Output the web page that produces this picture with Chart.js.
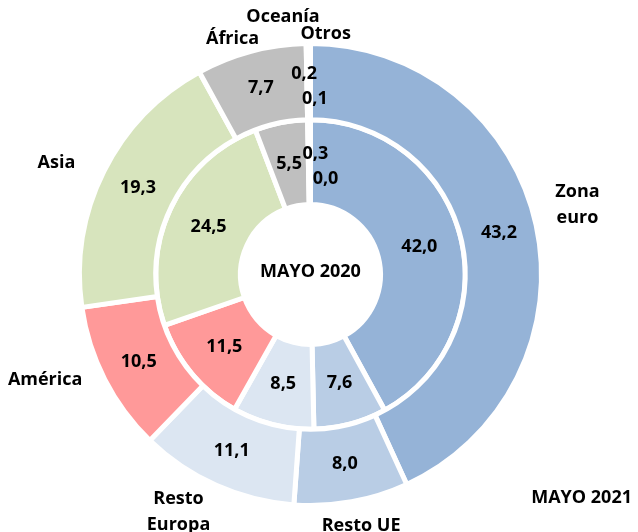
<!DOCTYPE html>
<html>
<head>
<meta charset="utf-8">
<script src="https://cdn.jsdelivr.net/npm/chart.js@4/dist/chart.umd.min.js"></script>
<style>
  html, body { margin: 0; padding: 0; background: #fff; }
  #chart { display: block; }
</style>
</head>
<body>
<canvas id="chart" width="638" height="532"></canvas>
<script>
// data (shares in %, outer ring = May 2021, inner = May 2020)
const categories = [['Zona', 'euro'], 'Resto UE', ['Resto', 'Europa'], 'América', 'Asia', 'África', 'Oceanía', 'Otros'];
const values2021 = [43.2, 8.0, 11.1, 10.5, 19.3, 7.7, 0.2, 0.1];
const values2020 = [42.0, 7.6, 8.5, 11.5, 24.5, 5.5, 0.3, 0.0];
const outerTitle = 'MAYO 2021';
const innerTitle = 'MAYO 2020';

const colors = ['#95B3D7', '#B9CDE5', '#DCE6F2', '#FF9999', '#D7E4BD', '#BFBFBF', '#A6A6A6', '#7F7F7F'];
const FONT = 'bold 18px "Open Sans"';
const LINE_H = 26;
const LABEL_GAP = 14;
// small hand nudges so the category names sit where the original put them
const labelNudge = [[6, -12], [0, -3], [-19, -10], [-14, -12], [-18, 4], [-8, 14], [-24, 0], [16, 17]];

const fmt = v => v.toFixed(1).replace('.', ',');

const labelPlugin = {
    id: 'ringLabels',
    afterDatasetsDraw(chart) {
        const ctx = chart.ctx;
        ctx.save();
        ctx.fillStyle = '#000';
        ctx.font = FONT;
        ctx.textAlign = 'center';
        ctx.textBaseline = 'middle';

        // values inside each slice
        chart.data.datasets.forEach((ds, i) => {
            const meta = chart.getDatasetMeta(i);
            let tiny = 0;
            meta.data.forEach((arc, j) => {
                const v = ds.data[j];
                let { x, y } = arc.tooltipPosition();
                if (v < 1) {
                    // stack the two tiny slices one above the other
                    x += (tiny ? 5 : -4) + (i ? 10 : 0);
                    y += tiny ? 17 : -8;
                    tiny++;
                }
                ctx.fillText(fmt(v), x, y);
            });
        });

        // category names around the outer ring
        const outer = chart.getDatasetMeta(0).data;
        outer.forEach((arc, j) => {
            const lines = [].concat(categories[j]);
            const mid = (arc.startAngle + arc.endAngle) / 2;
            const cos = Math.cos(mid), sin = Math.sin(mid);
            const w = Math.max(...lines.map(l => ctx.measureText(l).width));
            const h = lines.length * LINE_H;
            const r = arc.outerRadius + LABEL_GAP;
            const cx = arc.x + cos * r + cos * w / 2 + labelNudge[j][0];
            const cy = arc.y + sin * r + sin * h / 2 + labelNudge[j][1];
            lines.forEach((l, k) => {
                ctx.fillText(l, cx, cy - h / 2 + LINE_H * (k + 0.5));
            });
        });

        // titles
        ctx.fillText(innerTitle, outer[0].x, outer[0].y - 3);
        ctx.textAlign = 'right';
        ctx.fillText(outerTitle, chart.width - 6, chart.height - 34);
        ctx.restore();
    }
};

document.addEventListener('DOMContentLoaded', () => {
    const ctx = document.getElementById('chart').getContext('2d');

    new Chart(ctx, {
        type: 'doughnut',
        data: {
            labels: categories,
            datasets: [
                {
                    label: outerTitle,
                    data: values2021,
                    backgroundColor: colors,
                    borderColor: '#fff',
                    borderWidth: 5,
                    weight: 0.9
                },
                {
                    label: innerTitle,
                    data: values2020,
                    backgroundColor: colors,
                    borderColor: '#fff',
                    borderWidth: 5,
                    weight: 1
                }
            ]
        },
        options: {
            responsive: false,
            animation: false,
            cutout: 70,
            layout: {
                padding: { top: 41, bottom: 24, left: 77, right: 94 }
            },
            plugins: {
                legend: { display: false },
                tooltip: { enabled: false }
            },
            events: []
        },
        plugins: [labelPlugin]
    });
});
</script>
</body>
</html>
